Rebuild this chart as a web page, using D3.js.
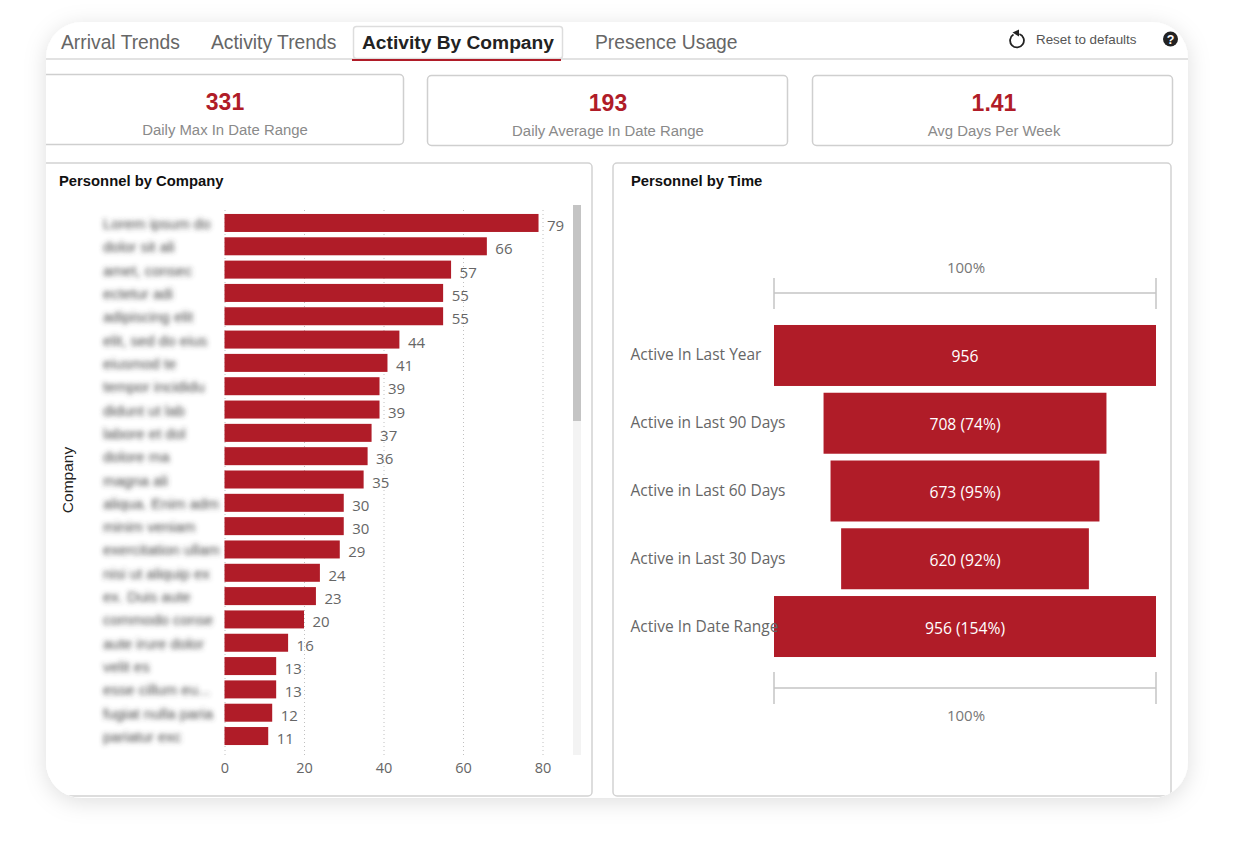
<!DOCTYPE html>
<html>
<head>
<meta charset="utf-8">
<title>Activity By Company</title>
<script src="https://cdn.jsdelivr.net/npm/d3@7"></script>
<style>
  html, body { margin: 0; padding: 0; background: #fff; overflow: hidden; }
  svg { display: block; }
  .arial { font-family: "Liberation Sans", Arial, sans-serif; }
  .segoe { font-family: "Open Sans", "Noto Sans", sans-serif; }
</style>
</head>
<body>
<script>
// tabs and cards
const tabs = ["Arrival Trends", "Activity Trends", "Activity By Company", "Presence Usage"];
const kpiValues = ["331", "193", "1.41"];
const kpiLabels = ["Daily Max In Date Range", "Daily Average In Date Range", "Avg Days Per Week"];

// Personnel by Company (names are blurred out in the source, these are stand-ins)
const companies = ["Lorem ipsum do", "dolor sit ali", "amet, consec", "ectetur adi", "adipiscing elit", "elit, sed do eius",
  "eiusmod te", "tempor incididu", "didunt ut lab", "labore et dol", "dolore ma", "magna ali", "aliqua. Enim adm",
  "minim veniam", "exercitation ullam", "nisi ut aliquip ex", "ex. Duis aute", "commodo conse", "aute irure dolor", "velit es",
  "esse cillum eu...", "fugiat nulla paria", "pariatur exc"];
const counts = [79, 66, 57, 55, 55, 44, 41, 39, 39, 37, 36, 35, 30, 30, 29, 24, 23, 20, 16, 13, 13, 12, 11];
const countTicks = [0, 20, 40, 60, 80];

// Personnel by Time
const stages = ["Active In Last Year", "Active in Last 90 Days", "Active in Last 60 Days", "Active in Last 30 Days", "Active In Date Range"];
const stageValues = [956, 708, 673, 620, 956];
const stagePercents = [null, 74, 95, 92, 154];

const red = "#b01c28";
const grey = "#666";

const svg = d3.select("body").append("svg").attr("width", 1237).attr("height", 841);
const defs = svg.append("defs");

const shadow = defs.append("filter").attr("id", "shadow")
  .attr("x", "-5%").attr("y", "-5%").attr("width", "110%").attr("height", "110%");
shadow.append("feDropShadow").attr("dx", 0).attr("dy", 4).attr("stdDeviation", 11)
  .attr("flood-color", "#000").attr("flood-opacity", 0.13);

defs.append("filter").attr("id", "blur")
  .attr("x", "-10%").attr("y", "-40%").attr("width", "120%").attr("height", "180%")
  .append("feGaussianBlur").attr("stdDeviation", 2.6);

defs.append("clipPath").attr("id", "sheet")
  .append("rect").attr("x", 46).attr("y", 22).attr("width", 1142).attr("height", 776).attr("rx", 36);

svg.append("rect").attr("x", 46).attr("y", 22).attr("width", 1142).attr("height", 776).attr("rx", 36)
  .attr("fill", "#fff").attr("filter", "url(#shadow)");

const page = svg.append("g").attr("clip-path", "url(#sheet)");

// --- tab strip
page.append("line").attr("x1", 46).attr("x2", 1188).attr("y1", 59).attr("y2", 59)
  .attr("stroke", "#e2e2e2").attr("stroke-width", 2);

page.append("rect").attr("x", 353.5).attr("y", 26.5).attr("width", 209).attr("height", 32).attr("rx", 3)
  .attr("fill", "#fff").attr("stroke", "#ddd").attr("stroke-width", 1.5);
page.append("line").attr("x1", 352).attr("x2", 561).attr("y1", 60).attr("y2", 60)
  .attr("stroke", red).attr("stroke-width", 2);

const tabX = [61, 211, 362, 595];
page.selectAll(".tab").data(tabs).enter().append("text")
  .attr("class", "tab arial")
  .attr("x", (d, i) => tabX[i])
  .attr("y", 48.5)
  .attr("font-size", (d, i) => i == 2 ? 19.2 : 19.3)
  .attr("font-weight", (d, i) => i == 2 ? "bold" : "normal")
  .attr("fill", (d, i) => i == 2 ? "#222" : grey)
  .text(d => d);

// reset icon + help
page.append("path").attr("d", d3.arc()({ innerRadius: 6, outerRadius: 7.8, startAngle: 0.35, endAngle: 5.75 }))
  .attr("transform", "translate(1017,40.5)").attr("fill", "#222");
page.append("path").attr("d", "M1012.5,32.5 L1019,29.5 L1019,36.5 Z").attr("fill", "#222");
page.append("text").attr("class", "arial").attr("x", 1036).attr("y", 44).attr("font-size", 13.4)
  .attr("fill", "#555").text("Reset to defaults");
page.append("circle").attr("cx", 1170.5).attr("cy", 39).attr("r", 7.5).attr("fill", "#222");
page.append("text").attr("class", "arial").attr("x", 1170.5).attr("y", 43.5).attr("text-anchor", "middle")
  .attr("font-size", 12.5).attr("font-weight", "bold").attr("fill", "#fff").text("?");

// --- kpi cards
const cardBox = [[30, 75, 374], [428, 76, 360], [813, 76, 360]];
const kpi = page.selectAll(".kpi").data(kpiValues).enter().append("g").attr("class", "kpi arial");
kpi.append("rect")
  .attr("x", (d, i) => cardBox[i][0] - 0.5)
  .attr("y", (d, i) => cardBox[i][1] - 0.5)
  .attr("width", (d, i) => cardBox[i][2])
  .attr("height", 70)
  .attr("rx", 4)
  .attr("fill", "#fff").attr("stroke", "#cfcfcf").attr("stroke-width", 1.5);
const kpiCenter = [225, 608, 994];
kpi.append("text")
  .attr("x", (d, i) => kpiCenter[i])
  .attr("y", (d, i) => cardBox[i][1] + 35)
  .attr("text-anchor", "middle").attr("font-size", 23).attr("font-weight", "bold").attr("fill", red)
  .text(d => d);
kpi.append("text")
  .attr("x", (d, i) => kpiCenter[i])
  .attr("y", (d, i) => cardBox[i][1] + 60)
  .attr("text-anchor", "middle").attr("font-size", 14.9).attr("fill", "#8a8a8a")
  .text((d, i) => kpiLabels[i]);

// --- panels
page.append("rect").attr("x", 30).attr("y", 163).attr("width", 562).attr("height", 633).attr("rx", 4)
  .attr("fill", "#fff").attr("stroke", "#d2d2d2").attr("stroke-width", 1.5);
page.append("rect").attr("x", 613).attr("y", 163).attr("width", 558).attr("height", 633).attr("rx", 4)
  .attr("fill", "#fff").attr("stroke", "#d2d2d2").attr("stroke-width", 1.5);
page.append("text").attr("class", "arial").attr("x", 59).attr("y", 186).attr("font-size", 14.8)
  .attr("font-weight", "bold").attr("fill", "#111").text("Personnel by Company");
page.append("text").attr("class", "arial").attr("x", 631).attr("y", 186).attr("font-size", 14.8)
  .attr("font-weight", "bold").attr("fill", "#111").text("Personnel by Time");

// --- bar chart
const xScale = d3.scaleLinear().domain([0, 80]).range([224.5, 542.5]);
const yScale = d3.scaleBand().domain(companies).range([205.8, 753.2]).paddingInner(0.228).paddingOuter(0.35);

const xAxis = d3.axisBottom(xScale).tickValues(countTicks).tickSize(-548).tickPadding(8);
const axisG = page.append("g").attr("class", "segoe").attr("transform", "translate(0,755)").call(xAxis);
axisG.select(".domain").remove();
axisG.selectAll("line").attr("stroke", "#c0c0c0").attr("stroke-dasharray", "1,3");
axisG.selectAll("text").attr("font-size", 14.5).attr("fill", grey).attr("font-family", "Open Sans");

page.selectAll(".bar").data(counts).enter().append("rect")
  .attr("class", "bar")
  .attr("x", xScale(0))
  .attr("y", (d, i) => yScale(companies[i]))
  .attr("width", d => xScale(d) - xScale(0))
  .attr("height", yScale.bandwidth())
  .attr("fill", red);

page.selectAll(".count").data(counts).enter().append("text")
  .attr("class", "count segoe")
  .attr("x", d => xScale(d) + 8.5)
  .attr("y", (d, i) => yScale(companies[i]) + yScale.bandwidth() / 2 + 8)
  .attr("font-size", 15).attr("fill", grey)
  .text(d => d);

page.selectAll(".company").data(companies).enter().append("text")
  .attr("class", "company arial")
  .attr("x", 103)
  .attr("y", d => yScale(d) + yScale.bandwidth() / 2 + 6)
  .attr("font-size", 15).attr("fill", "#444")
  .attr("filter", "url(#blur)")
  .text(d => d);

page.append("text").attr("class", "arial")
  .attr("transform", "translate(72.5,480) rotate(-90)")
  .attr("text-anchor", "middle").attr("font-size", 15.5).attr("fill", "#222").text("Company");

// scrollbar
page.append("rect").attr("x", 573).attr("y", 205).attr("width", 8).attr("height", 550).attr("fill", "#f3f3f3");
page.append("rect").attr("x", 573).attr("y", 205).attr("width", 8).attr("height", 216).attr("fill", "#c4c4c4");

// --- funnel
const funnelX = d3.scaleLinear().domain([-956 / 2, 956 / 2]).range([774, 1156]);
const funnelY = d3.scaleBand().domain(stages).range([321.6, 660.4]).paddingInner(0.1).paddingOuter(0.05);

page.selectAll(".stage").data(stageValues).enter().append("rect")
  .attr("class", "stage")
  .attr("x", d => funnelX(-d / 2))
  .attr("y", (d, i) => funnelY(stages[i]))
  .attr("width", d => funnelX(d / 2) - funnelX(-d / 2))
  .attr("height", funnelY.bandwidth())
  .attr("fill", red);

page.selectAll(".stageValue").data(stageValues).enter().append("text")
  .attr("class", "stageValue segoe")
  .attr("x", funnelX(0))
  .attr("y", (d, i) => funnelY(stages[i]) + funnelY.bandwidth() / 2 + 7)
  .attr("text-anchor", "middle").attr("font-size", 15.7).attr("fill", "#fff")
  .text((d, i) => stagePercents[i] == null ? d : `${d} (${stagePercents[i]}%)`);

page.selectAll(".stageLabel").data(stages).enter().append("text")
  .attr("class", "stageLabel segoe")
  .attr("x", 630.5)
  .attr("y", d => funnelY(d) + funnelY.bandwidth() / 2 + 5)
  .attr("font-size", 15.5).attr("fill", grey)
  .text(d => d);

// 100% brackets above and below the funnel
[[293, 278, 309, 273], [688, 672, 704, 721]].forEach(function (b) {
  const g = page.append("g").attr("stroke", "#c4c4c4").attr("stroke-width", 1.5);
  g.append("line").attr("x1", funnelX.range()[0]).attr("x2", funnelX.range()[1]).attr("y1", b[0]).attr("y2", b[0]);
  funnelX.range().forEach(function (x) {
    g.append("line").attr("x1", x).attr("x2", x).attr("y1", b[1]).attr("y2", b[2]);
  });
  page.append("text").attr("class", "segoe").attr("x", funnelX(0) + 1).attr("y", b[3])
    .attr("text-anchor", "middle").attr("font-size", 15).attr("fill", "#777").text("100%");
});
</script>
</body>
</html>
